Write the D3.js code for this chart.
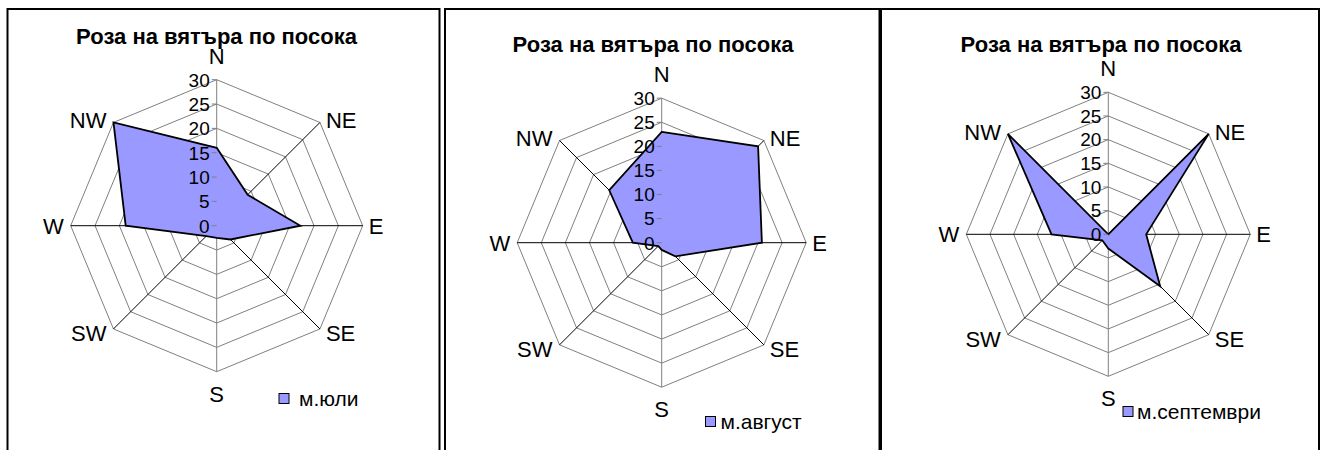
<!DOCTYPE html>
<html>
<head>
  <meta charset="utf-8">
  <title>Роза на вятъра по посока</title>
  <script src="https://cdn.jsdelivr.net/npm/d3@7"></script>
  <style>
    body { margin: 0; background: #fff; }
    text { font-family: "Liberation Sans", Arial, sans-serif; fill: #000; }
  </style>
</head>
<body>
  <div id="chart"></div>
  <script>
    // Data (percent of time per direction)
    const directions = ["N", "NE", "E", "SE", "S", "SW", "W", "NW"];
    const tickValues = [0, 5, 10, 15, 20, 25, 30];
    const chartTitle = "Роза на вятъра по посока";
    const seriesNames = ["м.юли", "м.август", "м.септември"];
    const july = [16, 9, 17.2, 4, 2.5, 3, 18.7, 30];
    const august = [23, 28.3, 20.8, 4, 1.5, 1, 6, 15.4];
    const september = [0, 30, 8, 15.5, 3, 1.8, 12, 30];

    const width = 1321, height = 450;

    // layout of the three panels
    const panels = [
      { x0: 7.5, x1: 439.5, cx: 216.7, cy: 225.7, r: 146, tx: 216.5, ty: 43.5, lx: 279, ly: 393.5, lt: 20, values: july },
      { x0: 445, x1: 879.5, cx: 661.7, cy: 242.7, r: 144.5, tx: 653, ty: 51.5, lx: 705.5, ly: 416.5, lt: 15, values: august },
      { x0: 881, x1: 1319, cx: 1108.3, cy: 234.3, r: 142, tx: 1101, ty: 52, lx: 1123, ly: 406.5, lt: 14, values: september }
    ];

    const svg = d3.select("#chart").append("svg")
        .attr("width", width)
        .attr("height", height);

    const angle = d3.scalePoint()
        .domain(directions)
        .range([0, 2 * Math.PI * 7 / 8]);

    panels.forEach((p, i) => {
      // frame (open at the bottom)
      svg.append("path")
          .attr("d", `M${p.x0},${height}V9H${p.x1}V${height}`)
          .attr("fill", "none")
          .attr("stroke", "#000")
          .attr("stroke-width", 2);

      const r = d3.scaleLinear().domain([0, 30]).range([0, p.r]);
      const g = svg.append("g").attr("transform", `translate(${p.cx},${p.cy})`);

      const ring = d3.lineRadial()
          .angle(d => angle(d))
          .curve(d3.curveLinearClosed);

      // grid octagons
      g.selectAll(".ring")
        .data(tickValues.slice(1))
        .enter().append("path")
          .attr("d", t => ring.radius(r(t))(directions))
          .attr("fill", "none")
          .attr("stroke", "#808080")
          .attr("stroke-width", 1);

      const pt = (dir, v) => {
        const a = angle(dir);
        return [Math.sin(a) * r(v), -Math.cos(a) * r(v)];
      };

      // spokes
      g.selectAll(".spoke")
        .data(directions)
        .enter().append("line")
          .attr("x1", 0).attr("y1", 0)
          .attr("x2", d => pt(d, 30)[0])
          .attr("y2", d => pt(d, 30)[1])
          .attr("stroke", d => (d === "N" || d === "S") ? "#808080" : "#000")
          .attr("stroke-width", 1);

      // series polygon
      const area = d3.lineRadial()
          .angle((d, j) => angle(directions[j]))
          .radius(d => r(d))
          .curve(d3.curveLinearClosed);

      g.append("path")
          .attr("d", area(p.values))
          .attr("fill", "#9999ff")
          .attr("stroke", "#000")
          .attr("stroke-width", 1.8)
          .attr("stroke-linejoin", "miter");

      // value axis ticks + labels
      g.selectAll(".tick")
        .data(tickValues)
        .enter().append("line")
          .attr("x1", -5).attr("x2", 0)
          .attr("y1", t => -r(t)).attr("y2", t => -r(t))
          .attr("stroke", "#808080");

      g.selectAll(".tlabel")
        .data(tickValues)
        .enter().append("text")
          .attr("x", -7)
          .attr("y", t => -r(t))
          .attr("dy", "0.36em")
          .attr("text-anchor", "end")
          .style("font-size", "19px")
          .text(t => t);

      // direction labels
      g.selectAll(".dlabel")
        .data(directions)
        .enter().append("text")
          .attr("x", d => {
            const [x] = pt(d, 30);
            if (d === "N" || d === "S") return x;
            return x + (x > 0 ? 6 : -7);
          })
          .attr("y", d => {
            const [, y] = pt(d, 30);
            if (d === "N") return y - 16;
            if (d === "S") return y + 30;
            if (d === "NE" || d === "NW") return y - 2;
            if (d === "SE" || d === "SW") return y + 4;
            return y;
          })
          .attr("dy", d => (d === "N" || d === "S") ? 0 : "0.36em")
          .attr("text-anchor", d => {
            const [x] = pt(d, 30);
            if (Math.abs(x) < 1) return "middle";
            return x > 0 ? "start" : "end";
          })
          .style("font-size", "22px")
          .text(d => d);

      // title
      svg.append("text")
          .attr("x", p.tx)
          .attr("y", p.ty)
          .attr("text-anchor", "middle")
          .style("font-size", "22px")
          .style("font-weight", "bold")
          .text(chartTitle);

      // legend
      svg.append("rect")
          .attr("x", p.lx).attr("y", p.ly)
          .attr("width", 10).attr("height", 10)
          .attr("fill", "#9999ff")
          .attr("stroke", "#000");

      svg.append("text")
          .attr("x", p.lx + p.lt)
          .attr("y", p.ly + 12)
          .style("font-size", "21px")
          .text(seriesNames[i]);
    });
  </script>
</body>
</html>
